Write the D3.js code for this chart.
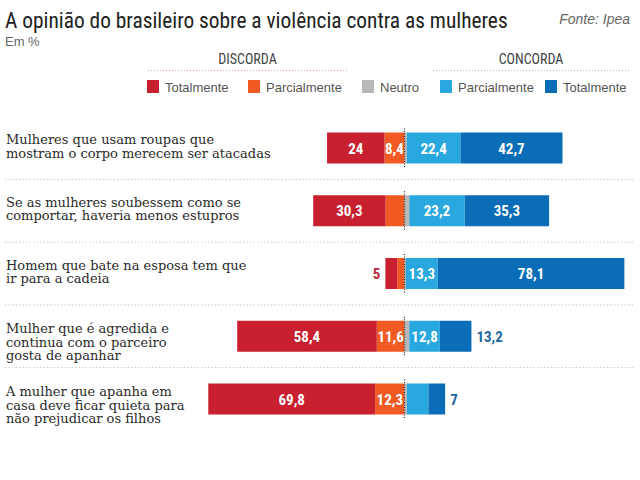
<!DOCTYPE html>
<html>
<head>
<meta charset="utf-8">
<script src="https://cdn.jsdelivr.net/npm/d3@7"></script>
<style>
  body { margin: 0; background: #fff; }
  svg { display: block; }
  .serif { font-family: "DejaVu Serif", serif; }
  .narrow { font-family: "Liberation Sans Narrow", "Roboto Condensed", Roboto, sans-serif; }
</style>
</head>
<body>
<div id="chart"></div>
<script>
// perguntas (uma linha de texto por elemento)
var perguntas = [
    ["Mulheres que usam roupas que", "mostram o corpo merecem ser atacadas"],
    ["Se as mulheres soubessem como se", "comportar, haveria menos estupros"],
    ["Homem que bate na esposa tem que", "ir para a cadeia"],
    ["Mulher que é agredida e", "continua com o parceiro", "gosta de apanhar"],
    ["A mulher que apanha em", "casa deve ficar quieta para", "não prejudicar os filhos"]
];

// valores em %
var discordaTotal   = [24, 30.3, 5, 58.4, 69.8];
var discordaParcial = [8.4, 7.9, 3, 11.6, 12.3];
var neutro          = [1, 2, 0.6, 2, 1];
var concordaParcial = [22.4, 23.2, 13.3, 12.8, 9];
var concordaTotal   = [42.7, 35.3, 78.1, 13.2, 7];

// rótulos impressos ("" = sem rótulo); fora = rótulo fora da barra
var rotDiscordaTotal   = ["24", "30,3", "5", "58,4", "69,8"];
var rotDiscordaParcial = ["8,4", "", "", "11,6", "12,3"];
var rotConcordaParcial = ["22,4", "23,2", "13,3", "12,8", ""];
var rotConcordaTotal   = ["42,7", "35,3", "78,1", "13,2", "7"];
var foraDiscordaTotal  = [false, false, true, false, false];
var foraConcordaTotal  = [false, false, false, true, true];

var legendaNomes = ["Totalmente", "Parcialmente", "Neutro", "Parcialmente", "Totalmente"];

var cores = {
    dt: "#c8202f",
    dp: "#f15a22",
    ne: "#b8b8b8",
    cp: "#29a8e0",
    ct: "#0b6db7"
};

var width = 640, height = 480;

var svg = d3.select("#chart").append("svg")
    .attr("width", width)
    .attr("height", height);

// escalas
var x = d3.scaleLinear().domain([-100, 100]).range([165.5, 643.5]);
var y = d3.scalePoint().domain(d3.range(perguntas.length)).range([148, 399]);
var barH = 31;

// titulo (tamanho ajustado para ocupar ~503px)
var titulo = svg.append("text")
    .attr("class", "narrow")
    .attr("x", 5)
    .attr("y", 28)
    .style("font-size", "20px")
    .style("fill", "#222")
    .text("A opinião do brasileiro sobre a violência contra as mulheres");
var tl = titulo.node().getComputedTextLength();
if (tl > 0) titulo.style("font-size", (20 * 503 / tl).toFixed(2) + "px");

svg.append("text")
    .attr("x", 630)
    .attr("y", 24)
    .style("text-anchor", "end")
    .style("font-family", "Liberation Sans, Arial, sans-serif")
    .style("font-style", "italic")
    .style("font-size", "14px")
    .style("fill", "#666")
    .text("Fonte: Ipea");

svg.append("text")
    .attr("x", 5)
    .attr("y", 46)
    .style("font-family", "Liberation Sans, Arial, sans-serif")
    .style("font-size", "13px")
    .style("fill", "#666")
    .text("Em %");

// cabeçalhos DISCORDA / CONCORDA
var cabecalhos = [
    {nome: "DISCORDA", x0: 148, x1: 347, cor: "#dba5a5"},
    {nome: "CONCORDA", x0: 433, x1: 629, cor: "#a9bdd3"}
];
cabecalhos.forEach(function (c) {
    svg.append("text")
        .attr("class", "narrow")
        .attr("x", (c.x0 + c.x1) / 2)
        .attr("y", 64)
        .style("text-anchor", "middle")
        .style("font-size", "14px")
        .style("fill", "#444")
        .text(c.nome);
    svg.append("line")
        .attr("x1", c.x0).attr("x2", c.x1)
        .attr("y1", 70.5).attr("y2", 70.5)
        .style("stroke", c.cor)
        .style("stroke-width", 1)
        .style("stroke-dasharray", "1,2");
});

// legenda
var legX = [147, 248, 362, 440, 545];
var legCores = [cores.dt, cores.dp, cores.ne, cores.cp, cores.ct];
var leg = svg.selectAll(".leg")
    .data(legendaNomes)
    .enter().append("g")
    .attr("class", "leg")
    .attr("transform", function (d, i) { return "translate(" + legX[i] + ",80)"; });
leg.append("rect")
    .attr("width", 12)
    .attr("height", 13)
    .style("fill", function (d, i) { return legCores[i]; });
leg.append("text")
    .attr("x", 18)
    .attr("y", 11.5)
    .style("font-family", "Liberation Sans, Arial, sans-serif")
    .style("font-size", "13px")
    .style("fill", "#555")
    .text(function (d) { return d; });

// separadores
svg.selectAll(".sep")
    .data(d3.range(perguntas.length - 1))
    .enter().append("line")
    .attr("class", "sep")
    .attr("x1", 5).attr("x2", 635)
    .attr("y1", function (i) { return y(i) + y.step() / 2; })
    .attr("y2", function (i) { return y(i) + y.step() / 2; })
    .style("stroke", "#c8c8c8")
    .style("stroke-width", 1)
    .style("stroke-dasharray", "1.5,2");

// textos das perguntas
svg.selectAll(".pergunta")
    .data(perguntas)
    .enter().append("text")
    .attr("class", "pergunta serif")
    .attr("x", 6)
    .attr("y", function (d, i) { return y(i) + (d.length === 2 ? -4 : -3); })
    .style("font-size", "13px")
    .style("fill", "#2a2a2a")
    .selectAll("tspan")
    .data(function (d) { return d; })
    .enter().append("tspan")
    .attr("x", 6)
    .attr("dy", function (d, j) { return j === 0 ? 0 : 13.5; })
    .text(function (d) { return d; });

// segmentos empilhados a partir do centro
var segmentos = [];
perguntas.forEach(function (p, i) {
    var esq = -discordaParcial[i];
    segmentos.push({linha: i, s: "dp", a: esq, b: 0, rot: rotDiscordaParcial[i], fora: false});
    segmentos.push({linha: i, s: "dt", a: esq - discordaTotal[i], b: esq, rot: rotDiscordaTotal[i], fora: foraDiscordaTotal[i]});
    var dir = neutro[i];
    segmentos.push({linha: i, s: "ne", a: 0, b: dir, rot: "", fora: false});
    segmentos.push({linha: i, s: "cp", a: dir, b: dir + concordaParcial[i], rot: rotConcordaParcial[i], fora: false});
    dir += concordaParcial[i];
    segmentos.push({linha: i, s: "ct", a: dir, b: dir + concordaTotal[i], rot: rotConcordaTotal[i], fora: foraConcordaTotal[i]});
});

svg.selectAll(".seg")
    .data(segmentos)
    .enter().append("rect")
    .attr("class", "seg")
    .attr("x", function (d) { return x(d.a); })
    .attr("width", function (d) { return x(d.b) - x(d.a); })
    .attr("y", function (d) { return y(d.linha) - barH / 2; })
    .attr("height", barH)
    .style("fill", function (d) { return cores[d.s]; });

var corFora = {dt: "#b8283c", ct: "#2466a0"};
svg.selectAll(".rot")
    .data(segmentos.filter(function (d) { return d.rot !== ""; }))
    .enter().append("text")
    .attr("class", "rot narrow")
    .attr("x", function (d) {
        if (!d.fora) return (x(d.a) + x(d.b)) / 2;
        return d.s === "dt" ? x(d.a) - 5 : x(d.b) + 5;
    })
    .attr("y", function (d) { return y(d.linha) + 5.5; })
    .style("text-anchor", function (d) {
        if (!d.fora) return "middle";
        return d.s === "dt" ? "end" : "start";
    })
    .style("font-size", "15px")
    .style("font-weight", "bold")
    .style("fill", function (d) { return d.fora ? corFora[d.s] : "#fff"; })
    .text(function (d) { return d.rot; });

// linha central pontilhada
svg.selectAll(".centro")
    .data(perguntas)
    .enter().append("line")
    .attr("class", "centro")
    .attr("x1", x(0)).attr("x2", x(0))
    .attr("y1", function (d, i) { return y(i) - barH / 2 - 4; })
    .attr("y2", function (d, i) { return y(i) + barH / 2 + 4; })
    .style("stroke", "#222")
    .style("stroke-width", 1.2)
    .style("stroke-dasharray", "1,1.5");
</script>
</body>
</html>
